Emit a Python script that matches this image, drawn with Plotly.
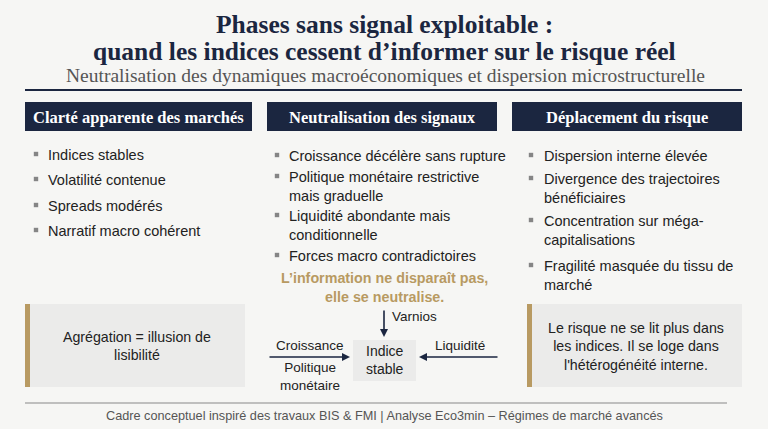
import plotly.graph_objects as go

W, H = 768, 429
NAVY = "#1b2640"
GOLD = "#b89a62"
TEXT = "#222222"
GRAY_BOX = "#ebebea"

title_lines = ["Phases sans signal exploitable :",
               "quand les indices cessent d\u2019informer sur le risque réel"]
subtitle = "Neutralisation des dynamiques macroéconomiques et dispersion microstructurelle"

headers = ["Clarté apparente des marchés", "Neutralisation des signaux", "Déplacement du risque"]

col1_items = ["Indices stables", "Volatilité contenue", "Spreads modérés", "Narratif macro cohérent"]
col2_items = ["Croissance décélère sans rupture",
              "Politique monétaire restrictive<br>mais graduelle",
              "Liquidité abondante mais<br>conditionnelle",
              "Forces macro contradictoires"]
col3_items = ["Dispersion interne élevée",
              "Divergence des trajectoires<br>bénéficiaires",
              "Concentration sur méga-<br>capitalisations",
              "Fragilité masquée du tissu de<br>marché"]

gold_note = "L\u2019information ne disparaît pas,<br>elle se neutralise."
left_box_text = "Agrégation = illusion de<br>lisibilité"
right_box_text = "Le risque ne se lit plus dans<br>les indices. Il se loge dans<br>l'hétérogénéité interne."

diagram_center = "Indice<br>stable"
diagram_labels = ["Croissance", "Politique<br>monétaire", "Liquidité", "Varnios"]

footer = "Cadre conceptuel inspiré des travaux BIS & FMI | Analyse Eco3min \u2013 Régimes de marché avancés"

SERIF = "Liberation Serif"
SANS = "Liberation Sans"

shapes = []
ann = []

def rect(x0, y0, x1, y1, fill):
    shapes.append(dict(type="rect", xref="x", yref="y", x0=x0, y0=y0, x1=x1, y1=y1,
                       fillcolor=fill, line=dict(width=0), layer="below"))

def line(x0, y0, x1, y1, color, width):
    shapes.append(dict(type="line", xref="x", yref="y", x0=x0, y0=y0, x1=x1, y1=y1,
                       line=dict(color=color, width=width)))

def text(x, y, s, size, color=TEXT, family=SANS, xanchor="center", yanchor="middle", align="center"):
    ann.append(dict(x=x, y=y, xref="x", yref="y", text=s, showarrow=False,
                    font=dict(size=size, color=color, family=family),
                    xanchor=xanchor, yanchor=yanchor, align=align))

# Title
text(384, 24.5, "<b>" + title_lines[0] + "</b>", 25.5, NAVY, SERIF)
text(384, 51, "<b>" + title_lines[1] + "</b>", 25.5, NAVY, SERIF)
text(385, 75.5, subtitle, 19.5, "#555555", SERIF)
line(25, 90, 742, 90, NAVY, 2)

# Headers
hx = [(25, 252), (267, 497), (512, 742)]
for (x0, x1), h in zip(hx, headers):
    rect(x0, 102, x1, 131, NAVY)
    text((x0 + x1) / 2, 117, "<b>" + h + "</b>", 16.5, "white", SERIF)

# Bullets
def bullets(items, bx, tx, ys):
    for s, y in zip(items, ys):
        rect(bx - 2.2, y - 2.2, bx + 2.2, y + 2.2, "#858585")
        text(tx, y - 9.5, s, 14.5, TEXT, SANS, xanchor="left", yanchor="top", align="left")

bullets(col1_items, 36, 46, [154, 179, 205, 230])
bullets(col2_items, 277, 287, [155, 176, 215, 255])
bullets(col3_items, 531, 542, [155, 178, 220, 265])

text(384, 287, "<b>" + gold_note + "</b>", 14.3, GOLD, SANS)

# Bottom boxes
rect(25, 304, 245, 387, GRAY_BOX)
rect(25, 304, 30, 387, GOLD)
text(137, 346, left_box_text, 14.2, TEXT, SANS)

rect(527, 304, 742, 387, GRAY_BOX)
rect(527, 304, 532, 387, GOLD)
text(636, 346, right_box_text, 14.2, TEXT, SANS)

# Diagram
rect(353, 340, 416, 381, GRAY_BOX)
text(384.5, 360, diagram_center, 14, TEXT, SANS)
arrow = dict(xref="x", yref="y", axref="x", ayref="y", showarrow=True, text="",
             arrowhead=2, arrowsize=1, arrowwidth=1.6, arrowcolor=NAVY)
ann.append(dict(arrow, x=350, y=357, ax=268, ay=357))
ann.append(dict(arrow, x=419, y=357, ax=499, ay=357))
ann.append(dict(arrow, x=384, y=337, ax=384, ay=309))
text(310, 345, diagram_labels[0], 13.5, TEXT, SANS)
text(310, 376, diagram_labels[1], 13.5, TEXT, SANS)
text(460, 345, diagram_labels[2], 13.5, TEXT, SANS)
text(390, 316, diagram_labels[3], 13.5, TEXT, SANS, xanchor="left")

# Footer
line(25, 403, 727, 403, "#888888", 1.2)
text(384, 416, footer, 12.7, "#555555", SANS)

fig = go.Figure()
fig.update_layout(
    width=W, height=H, margin=dict(l=0, r=0, t=0, b=0),
    paper_bgcolor="#f6f6f4", plot_bgcolor="#f6f6f4",
    xaxis=dict(range=[0, W], visible=False, fixedrange=True),
    yaxis=dict(range=[H, 0], visible=False, fixedrange=True),
    shapes=shapes, annotations=ann, showlegend=False,
)
fig.write_html("out.html", config={"displayModeBar": False},
               post_script="document.body.style.margin='0px';document.body.style.overflow='hidden';")
